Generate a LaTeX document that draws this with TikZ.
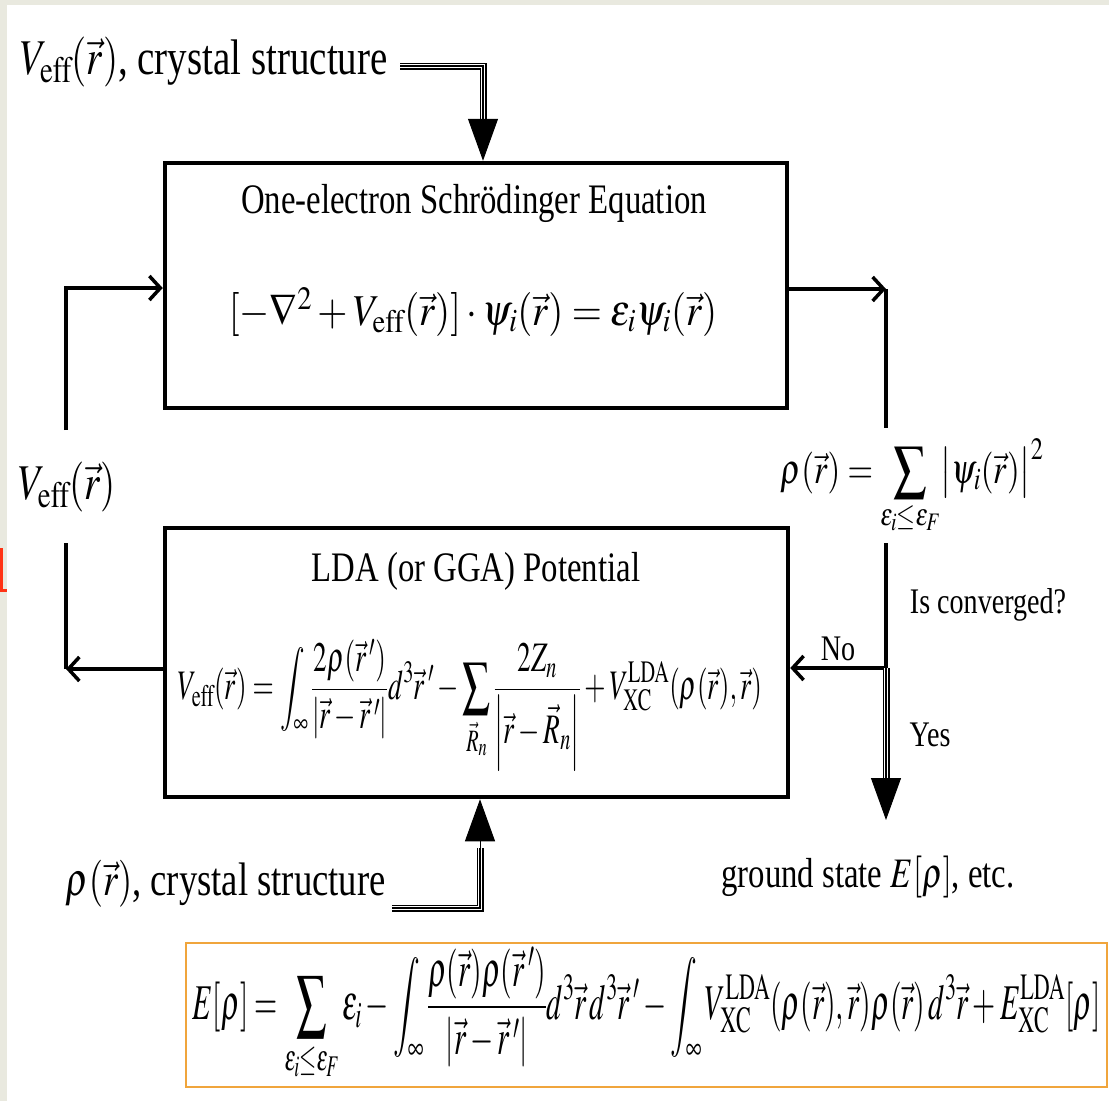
\documentclass[tikz,border=0pt]{standalone}
\usepackage{graphicx}
\usepackage{mathptmx}
\usepackage[no-math]{fontspec}
\setmainfont{Liberation Serif}
\usetikzlibrary{positioning, arrows.meta}
\definecolor{slidebg}{RGB}{233, 233, 223}
\definecolor{boxorange}{RGB}{240, 165, 60}
\definecolor{markred}{RGB}{255, 50, 20}
\newcommand{\sq}[2][0.78]{\scalebox{#1}[1]{#2}}

\begin{document}
\begin{tikzpicture}[x=1pt, y=-1pt,
        stepbox/.style={draw, line width=4.5pt, minimum width=622pt, minimum height=245pt},
        lbl/.style={inner sep=0pt, font=\fontsize{#1}{#1}\selectfont},
        flow/.style={line width=3.5pt, -{Straight Barb[length=11pt, width=24pt]}},
        plain/.style={line width=3.5pt},
        triple/.style={line width=7pt, postaction={draw=white, line width=4pt},
            postaction={draw=black, line width=1.4pt}},
        bigtip/.style={line width=1pt, -{Triangle[length=42pt, width=30pt]}}
    ]
    \fill[slidebg] (0,0) rectangle (1109,1101);
    \fill[white] (7,5) rectangle (1109,1101);
    \useasboundingbox (0,0) rectangle (1109,1101);
    \draw[markred, line width=3pt] (1.5,548) -- (1.5,590) -- (7,590);

    \node[stepbox] (box1) at (476, 285.5) {};
    \node[stepbox, minimum width=623pt, minimum height=269pt] (box2) at (476.5, 662.5) {};
    \node[lbl=42] (title1) at (474, 203) {\sq{One-electron Schrödinger Equation}};
    \node[lbl=44] (eq1) at (473, 312)
        {\sq[0.88]{$[-\nabla^2+V_{\mathrm{eff}}(\vec{r})]\cdot\psi_i(\vec{r})=\epsilon_i\psi_i(\vec{r})$}};
    \node[lbl=42] (title2) at (476, 571) {\sq{LDA (or GGA) Potential}};
    \node[lbl=42] (eq2) at (470, 705)
        {\sq[0.65]{$\displaystyle V_{\mathrm{eff}}(\vec{r})=\int_\infty\frac{2\rho(\vec{r}\,')}{\left|\vec{r}-\vec{r}\,'\right|}d^3\vec{r}\,'
         -\sum_{\vec{R}_n}\frac{2Z_n}{\left|\vec{r}-\vec{R}_n\right|}+V_{\mathrm{XC}}^{\mathrm{LDA}}(\rho(\vec{r}),\vec{r})$}};

    \node[lbl=50, anchor=east] (toplbl) at (388, 62)
        {\sq{$V_{\mathrm{eff}}(\vec{r})$, crystal structure}};
    \node[lbl=47, anchor=east] (botlbl) at (386, 884)
        {\sq{$\rho(\vec{r})$, crystal structure}};
    \node[lbl=50] (veffL) at (67, 487) {\sq{$V_{\mathrm{eff}}(\vec{r})$}};
    \node[lbl=42] (rho) at (912, 487)
        {\sq{$\rho(\vec{r})=\displaystyle\sum_{\epsilon_i\le\epsilon_F}\bigl|\psi_i(\vec{r})\bigr|^2$}};
    \node[lbl=36] (conv) at (988, 605) {\sq{Is converged?}};
    \node[lbl=36] (yes) at (930, 735) {\sq{Yes}};
    \node[lbl=42] (ground) at (868, 877) {\sq{ground state $E[\rho]$, etc.}};
    \node[draw=boxorange, line width=2pt, minimum width=921pt, minimum height=144pt,
        inner sep=0pt, font=\fontsize{50}{50}\selectfont] (ebox) at (646.5, 1015)
        {\sq[0.595]{$\displaystyle E[\rho]=\sum_{\epsilon_i\le\epsilon_F}\epsilon_i-\int_\infty\frac{\rho(\vec{r})\rho(\vec{r}\,')}{\left|\vec{r}-\vec{r}\,'\right|}d^3\vec{r}\,d^3\vec{r}\,'
         -\int_\infty V_{\mathrm{XC}}^{\mathrm{LDA}}(\rho(\vec{r}),\vec{r})\rho(\vec{r})\,d^3\vec{r}+E_{\mathrm{XC}}^{\mathrm{LDA}}[\rho]$}};

    \coordinate (lc) at (66, 669);
    \coordinate (lt) at (66, 288);
    \coordinate (lgapB) at (66, 543);
    \coordinate (lgapT) at (66, 430);
    \coordinate (rc) at (886, 289);
    \coordinate (rgapT) at (886, 428);
    \coordinate (rgapB) at (886, 543);
    \coordinate (jn) at (886, 668);
    \coordinate (yesbase) at (886, 778);
    \coordinate (yestip) at (886, 820);
    \coordinate (inbend) at (483, 66);
    \coordinate (inbase) at (483, 120);
    \coordinate (botbend) at (480, 908);
    \coordinate (botbase) at (480, 848);

    \draw[flow] (box2.west |- lc) -- (lc);
    \draw[plain] (lc) -- (lgapB);
    \draw[flow] (lgapT) -- (lt) -- (box1.west |- lt);
    \draw[flow] (box1.east |- rc) -- (rc);
    \draw[plain] (rc) -- (rgapT);
    \draw[plain] (rgapB) -- (jn);
    \draw[flow] (jn) -- (box2.east |- jn) node[lbl=36, midway, above=5pt] (no) {\sq{No}};
    \draw[triple] (jn) -- (yesbase);
    \draw[bigtip] (yesbase) -- (yestip);

    \draw[triple] ([xshift=12pt]toplbl.east |- inbend) -- (inbend) -- (inbase);
    \draw[bigtip] (inbase) -- (inbase |- box1.north);
    \draw[triple] ([xshift=6pt]botlbl.east |- botbend) -- (botbend) -- (botbase);
    \draw[bigtip] (botbase) -- (botbase |- box2.south);
\end{tikzpicture}
\end{document}
